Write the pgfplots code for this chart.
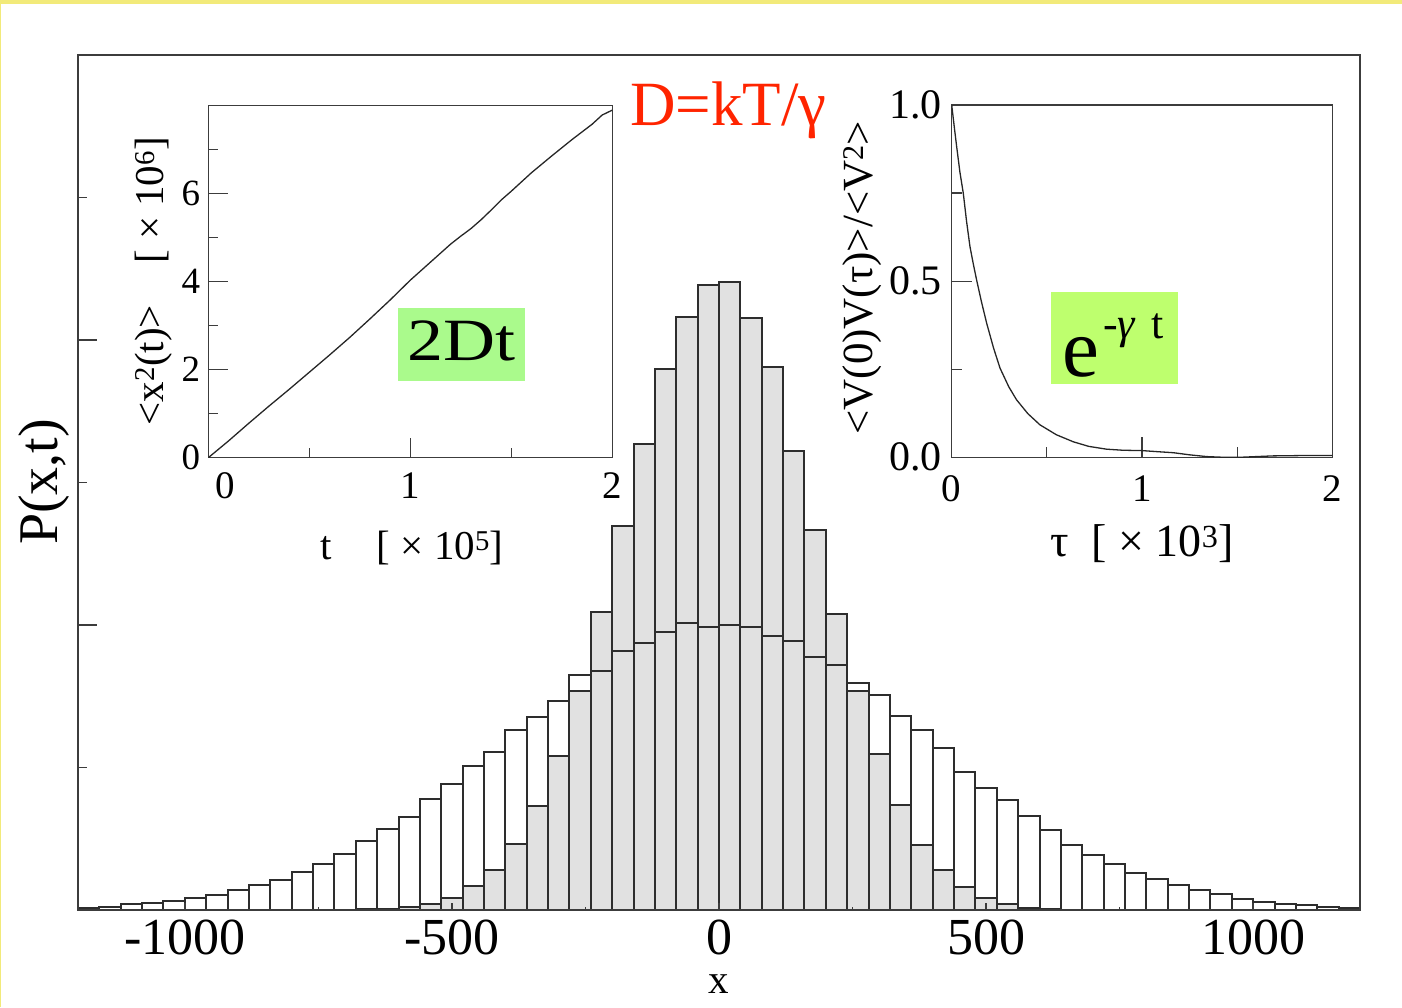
\documentclass[border=0pt]{standalone}
\usepackage{pgfplots}
\usepackage{pgfplotstable}
\pgfplotsset{compat=1.18}
\usepackage{fontspec}
\setmainfont{Liberation Serif}
\newfontfamily\wideserif{Liberation Serif}[FakeStretch=1.2]
\definecolor{barline}{RGB}{45,45,45}
\definecolor{barfill}{RGB}{225,225,225}
\definecolor{frame}{RGB}{60,60,60}
\definecolor{dred}{RGB}{255,36,0}
\definecolor{boxA}{RGB}{170,250,140}
\definecolor{boxB}{RGB}{190,255,110}
\definecolor{yel}{RGB}{242,234,122}

% wide distribution (white bars), left bin edge and height
\pgfplotstableread{
x y
-1200 1.3
-1160 2.7
-1120 5.7
-1080 6.7
-1040 8.7
-1000 12
-960 14.7
-920 20
-880 24.7
-840 30
-800 38
-760 46.3
-720 56.3
-680 69.3
-640 80.7
-600 93
-560 111
-520 126.3
-480 144.3
-440 158.3
-400 180.3
-360 193.3
-320 209.5
-280 235
-240 239
-200 259
-160 266.7
-120 277.7
-80 287.3
-40 283.3
0 285
40 283.3
80 274
120 269
160 252.7
200 245.3
240 227
280 215.5
320 194.3
360 180.3
400 162.3
440 137.7
480 121.7
520 109.7
560 93.7
600 80
640 65.3
680 54.7
720 46.3
760 36.7
800 30.7
840 24.7
880 20
920 15.7
960 10.7
1000 8
1040 5.7
1080 5.3
1120 3
1160 1.7
1200 1.7
}\widetab

% narrow distribution (grey bars)
\pgfplotstableread{
x y
-1200 2
-1160 0
-1120 0
-1080 0
-1040 0
-1000 0
-960 0
-920 0
-880 0
-840 0
-800 0
-760 0
-720 0.3
-680 0.7
-640 1.3
-600 2.7
-560 6
-520 11.7
-480 24
-440 39.7
-400 66
-360 104.3
-320 154
-280 219.3
-240 298
-200 384.3
-160 466
-120 540.7
-80 593.3
-40 625
0 627.7
40 592.3
80 542.7
120 459
160 379.7
200 296.3
240 219
280 156
320 105.3
360 65.3
400 40.3
440 22.7
480 11.7
520 6
560 2.3
600 0.7
640 0.3
680 0
720 0
760 0
800 0
840 0
880 0
920 0
960 0
1000 0
1040 0
1080 0
1120 0
1160 1
1200 1
}\narrowtab

\begin{document}
\begin{tikzpicture}
\path[use as bounding box] (0pt,0pt) rectangle (1402pt,1007pt);
\fill[yel] (0pt,1003pt) rectangle (1402pt,1007pt);
\fill[yel] (0pt,0pt) rectangle (1.2pt,1007pt);

% main histogram
\begin{axis}[
  at={(78pt,97pt)}, anchor=south west, scale only axis,
  width=1282pt, height=855pt,
  xmin=-1200, xmax=1200, ymin=0, ymax=855,
  axis line style={frame, line width=1.8pt},
  xtick={-1000,-500,0,500,1000}, minor xtick={-750,-250,250,750},
  ytick=\empty,
  tick pos=left, tick align=inside,
  major tick length=6.7pt, minor tick length=3.3pt,
  tick style={frame, line width=1.5pt},
  /pgf/number format/assume math mode=true,
  /pgf/number format/1000 sep={},
  xticklabel style={font=\fontsize{52}{52}\selectfont, inner sep=0pt, anchor=north, yshift=-10pt},
  xlabel={x}, ylabel={P(x,t)},
  every axis x label/.style={at={(axis description cs:0.5,-0.0865)}, anchor=center, inner sep=0pt, font=\fontsize{41}{41}\selectfont},
  every axis y label/.style={at={(axis description cs:-0.0265,0.5006)}, anchor=center, rotate=90, inner sep=0pt, font=\fontsize{56}{56}\selectfont},
  axis on top,
]
\addplot[ybar interval, fill=barfill, draw=barline, line width=2pt] table[x=x,y=y]{\narrowtab};
\addplot[ybar interval, fill=none, draw=barline, line width=2pt] table[x=x,y=y]{\widetab};
\node[anchor=base west, text=dred, font=\fontsize{63}{63}\selectfont, inner sep=0pt] at (axis description cs:0.4306,0.918) {D=kT/γ};
\end{axis}

% overlay axis: y ticks of the main plot
\begin{axis}[
  at={(78pt,97pt)}, anchor=south west, scale only axis,
  width=1282pt, height=855pt,
  xmin=-1200, xmax=1200, ymin=0, ymax=855,
  axis line style={draw=none},
  xtick=\empty, ytick={285,570}, minor ytick={142.5,427.5,712.5},
  yticklabels={},
  tick pos=left, tick align=inside,
  major tick length=18.7pt, minor tick length=9.3pt,
  tick style={frame, line width=1.5pt},
]
\end{axis}

% left inset: mean square displacement
\begin{axis}[
  at={(208.3pt,549.3pt)}, anchor=south west, scale only axis,
  width=404pt, height=352.4pt,
  xmin=0, xmax=2, ymin=0, ymax=8,
  xtick={0,1,2}, xticklabels={\hspace*{34pt}0,1,2}, minor xtick={0.5,1.5},
  ytick={0,2,4,6}, minor ytick={1,3,5,7},
  tick pos=left, tick align=inside,
  major tick length=20pt, minor tick length=10pt,
  axis line style={frame, line width=1.3pt},
  tick style={frame, line width=1.2pt},
  /pgf/number format/assume math mode=true,
  xticklabel style={font=\fontsize{39}{39}\selectfont, inner sep=0pt, anchor=north, yshift=-15pt},
  yticklabel style={font=\fontsize{37}{37}\selectfont, inner sep=0pt, anchor=east, xshift=-8pt},
  xlabel={t\hspace{1.1em}[ × 10\textsuperscript{5}]},
  ylabel={<x\textsuperscript{2}(t)>\hspace{1em}[ × 10\textsuperscript{6}]},
  every axis x label/.style={at={(axis description cs:0.504,-0.290)}, anchor=base, inner sep=0pt, font=\fontsize{41}{41}\selectfont},
  every axis y label/.style={at={(axis description cs:-0.112,0.501)}, anchor=base, rotate=90, inner sep=0pt, font=\fontsize{41}{41}\selectfont},
]
\addplot[black!85, line width=1.3pt] coordinates {
(0,0) (0.1,0.38) (0.2,0.78) (0.3,1.17) (0.4,1.55) (0.5,1.94) (0.6,2.33)
(0.7,2.73) (0.8,3.15) (0.9,3.58) (1.0,4.03) (1.1,4.44) (1.2,4.85) (1.25,5.03)
(1.3,5.2) (1.35,5.4) (1.4,5.62) (1.45,5.85) (1.5,6.05) (1.6,6.47) (1.7,6.85)
(1.8,7.22) (1.9,7.57) (1.95,7.78) (2.0,7.89)};
\node[fill=boxA, minimum width=127.3pt, minimum height=72.4pt, inner sep=0pt, anchor=center] at (axis description cs:0.626,0.321) {};
\node[anchor=base, inner sep=0pt, font=\fontsize{60}{60}\wideserif] at (axis description cs:0.627,0.277) {2Dt};
\end{axis}

% right inset: velocity autocorrelation
\begin{axis}[
  at={(951.7pt,549.7pt)}, anchor=south west, scale only axis,
  width=380.6pt, height=352.3pt,
  xmin=0, xmax=2, ymin=0, ymax=1,
  xtick={0,1,2}, minor xtick={0.5,1.5},
  ytick={0,0.5,1}, yticklabels={0.0,0.5,1.0}, minor ytick={0.25,0.75},
  tick pos=left, tick align=inside,
  major tick length=20pt, minor tick length=10pt,
  axis line style={frame, line width=1.3pt},
  tick style={frame, line width=1.2pt},
  /pgf/number format/assume math mode=true,
  xticklabel style={font=\fontsize{39}{39}\selectfont, inner sep=0pt, anchor=north, yshift=-18pt},
  yticklabel style={font=\fontsize{42}{42}\selectfont, inner sep=0pt, anchor=east, xshift=-10pt},
  xlabel={τ\hspace{0.5em}[ × 10\textsuperscript{3}]},
  ylabel={<V(0)V(τ)>/<V\textsuperscript{2}>},
  every axis x label/.style={at={(axis description cs:0.5,-0.282)}, anchor=base, inner sep=0pt, font=\fontsize{46}{46}\selectfont},
  every axis y label/.style={at={(axis description cs:-0.207,0.510)}, anchor=base, rotate=90, inner sep=0pt, font=\fontsize{43}{43}\selectfont},
]
\addplot[black!85, line width=1.3pt] coordinates {
(0,1.0) (0.013,0.94) (0.026,0.882) (0.043,0.81) (0.061,0.749) (0.078,0.67)
(0.096,0.598) (0.113,0.55) (0.131,0.503) (0.157,0.44) (0.184,0.380) (0.22,0.31)
(0.254,0.253) (0.30,0.20) (0.341,0.163) (0.40,0.124) (0.464,0.092) (0.55,0.064)
(0.639,0.044) (0.72,0.031) (0.814,0.023) (0.9,0.02) (1.0,0.019) (1.08,0.016)
(1.165,0.013) (1.25,0.007) (1.34,0.002) (1.43,0.0) (1.515,0.0) (1.6,0.002)
(1.69,0.004) (1.85,0.005) (2.0,0.005)};
\node[fill=boxB, minimum width=127.3pt, minimum height=92.3pt, inner sep=0pt, anchor=center] at (axis description cs:0.428,0.339) {};
\node[anchor=base west, inner sep=0pt, font=\fontsize{83}{83}\selectfont] at (axis description cs:0.2898,0.2288) {e};
\node[anchor=base west, inner sep=0pt, font=\fontsize{44}{44}\selectfont] at (axis description cs:0.3975,0.3386) {-\textit{γ}\hspace{0.35em}t};
\end{axis}
\end{tikzpicture}
\end{document}
